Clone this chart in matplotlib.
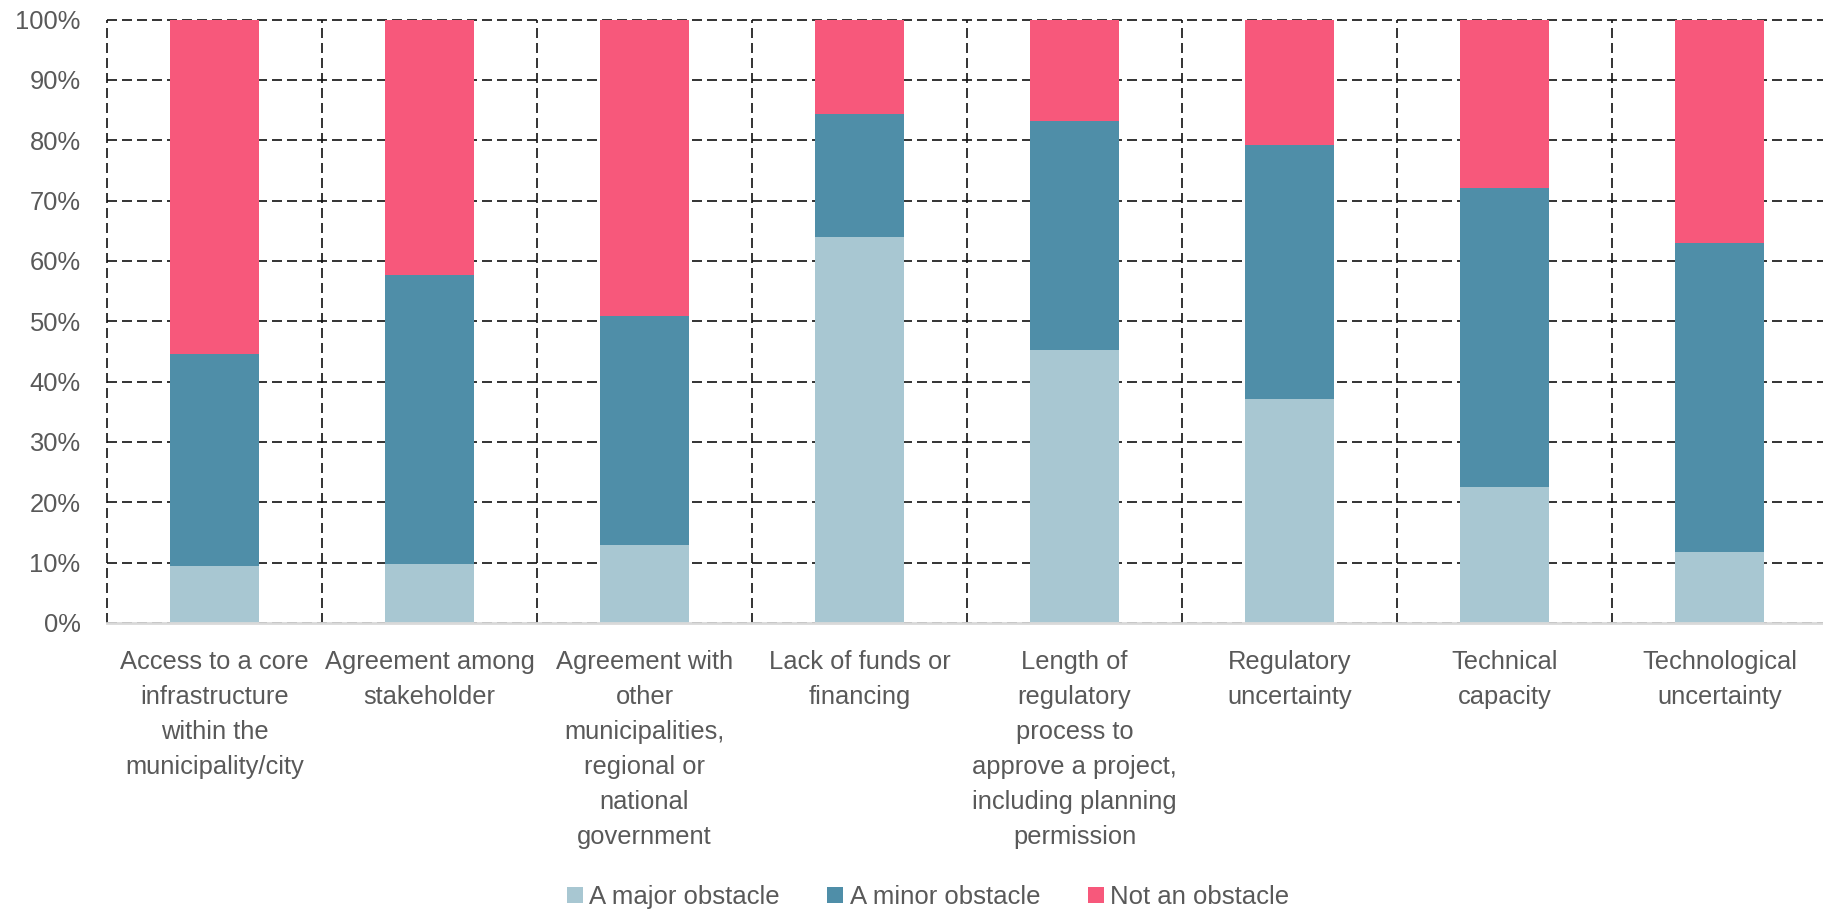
import numpy as np
import matplotlib.pyplot as plt
from matplotlib.ticker import PercentFormatter, MultipleLocator, FixedLocator

categories = ['Access to a core\ninfrastructure\nwithin the\nmunicipality/city',
              'Agreement among\nstakeholder',
              'Agreement with\nother\nmunicipalities,\nregional or\nnational\ngovernment',
              'Lack of funds or\nfinancing',
              'Length of\nregulatory\nprocess to\napprove a project,\nincluding planning\npermission',
              'Regulatory\nuncertainty',
              'Technical\ncapacity',
              'Technological\nuncertainty']
major = [9.5, 9.7, 12.9, 63.9, 45.3, 37.1, 22.5, 11.7]
minor = [35.1, 47.9, 38.0, 20.5, 37.8, 42.1, 49.5, 51.2]
not_obstacle = [55.4, 42.4, 49.1, 15.6, 16.9, 20.8, 28.0, 37.1]
series_names = ['A major obstacle', 'A minor obstacle', 'Not an obstacle']
colors = ['#A8C7D2', '#4F8EA8', '#F7587B']

plt.rcParams['font.family'] = ['Liberation Sans', 'DejaVu Sans']
text_color = '#595959'

fig = plt.figure(figsize=(18.24, 9.11), dpi=100)
W, H = 1824, 911
left, right, top, bottom = 107, 1827, 19.5, 623
ax = fig.add_axes([left / W, 1 - bottom / H, (right - left) / W, (bottom - top) / H])

x = np.arange(len(categories))
base = np.zeros(len(categories))
for vals, name, c in zip([major, minor, not_obstacle], series_names, colors):
    vals = np.array(vals)
    ax.bar(x, vals, 0.41, bottom=base, color=c, label=name, zorder=3)
    base = base + vals

ax.set_xlim(-0.5, len(categories) - 0.5)
ax.set_ylim(0, 100)
ax.yaxis.set_major_locator(MultipleLocator(10))
ax.yaxis.set_major_formatter(PercentFormatter(decimals=0))
ax.set_xticks(x)
ax.set_xticklabels(categories, linespacing=1.58)
ax.xaxis.set_minor_locator(FixedLocator(np.arange(-0.5, len(categories), 1.0)))

# dashed grid: horizontal at each 10%, vertical between categories
ax.grid(axis='y', which='major', color='#111111', linestyle=(0, (6, 3)), linewidth=1.2, zorder=1)
ax.grid(axis='x', which='minor', color='#111111', linestyle=(0, (6, 3)), linewidth=1.2, zorder=1)
ax.grid(axis='x', which='major', visible=False)
for gl in ax.get_ygridlines() + ax.xaxis.get_minorticklines():
    gl.set_clip_on(False)
for t in ax.xaxis.get_minor_ticks():
    t.gridline.set_clip_on(False)

for s in ['top', 'right', 'left']:
    ax.spines[s].set_visible(False)
ax.spines['bottom'].set_color('#D9D9D9')
ax.spines['bottom'].set_linewidth(2)
ax.spines['bottom'].set_zorder(4)

ax.tick_params(axis='both', which='both', length=0)
ax.tick_params(axis='y', labelsize=18.4, labelcolor=text_color, pad=19)
ax.tick_params(axis='x', labelsize=18.4, labelcolor=text_color, pad=19.5)

fig.legend(loc='center', bbox_to_anchor=(928 / W, 1 - 897 / H), ncol=3, frameon=False,
           fontsize=18.5, handlelength=0.62, handleheight=0.62, handletextpad=0.25,
           columnspacing=1.85, labelcolor=text_color)

fig.savefig('out.png', dpi=100)
